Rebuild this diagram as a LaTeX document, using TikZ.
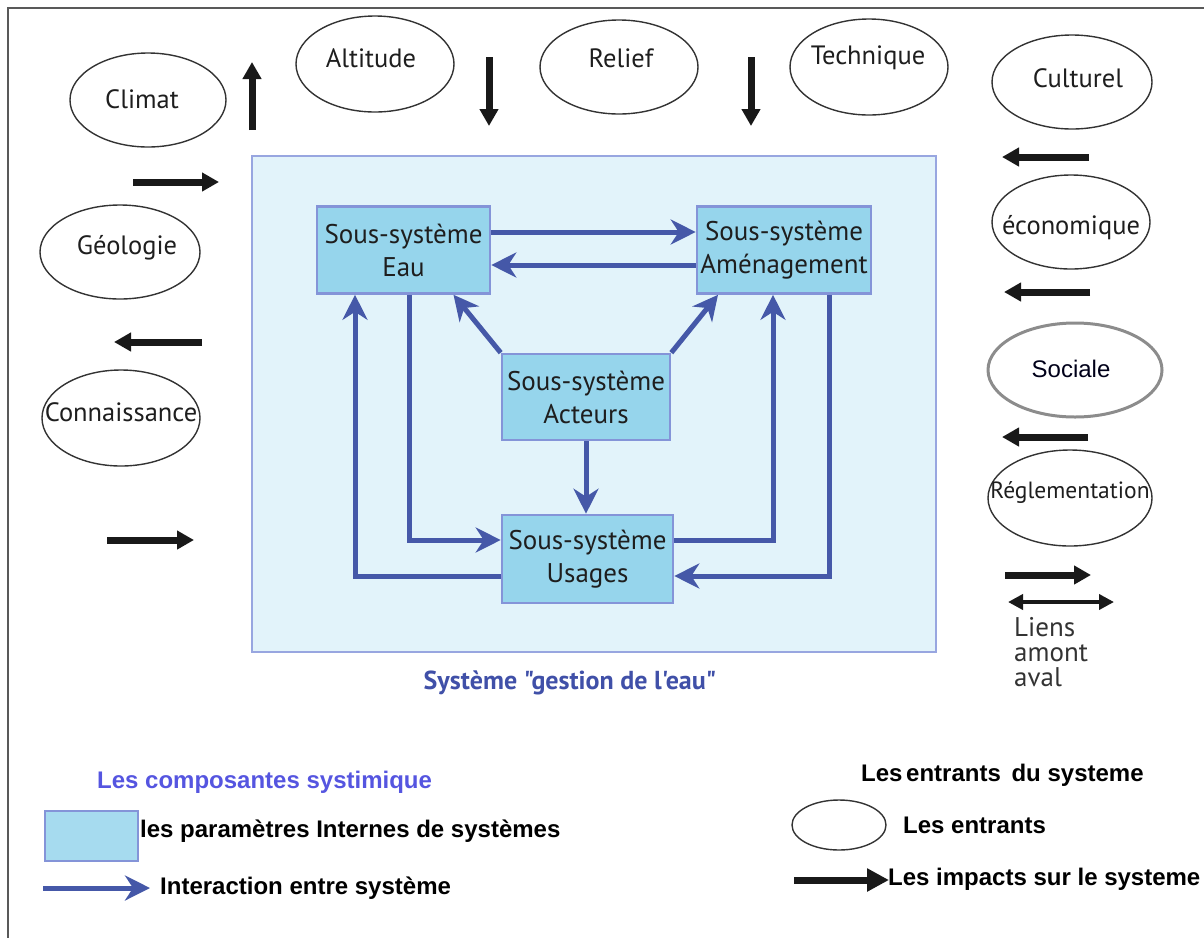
\documentclass[tikz,border=0pt]{standalone}
\usepackage{fontspec}
\setmainfont{PT Sans}
\newfontfamily\capfont{PT Sans}
\newfontfamily\legfont{Liberation Sans}
\usetikzlibrary{arrows.meta,shapes.geometric,calc}
\definecolor{subfill}{HTML}{96D5EC}
\definecolor{subdraw}{HTML}{8494D8}
\definecolor{sysfill}{HTML}{E2F3FA}
\definecolor{sysdraw}{HTML}{98A6E0}
\definecolor{flow}{HTML}{4558A8}
\definecolor{cap}{HTML}{4050A8}
\definecolor{legblue}{HTML}{5555E0}
\definecolor{txt}{HTML}{1E1E1E}
\begin{document}
\begin{tikzpicture}[x=1pt,y=-1pt,
  ent/.style={ellipse,draw=black!80,line width=1.4pt,inner sep=0pt},
  enttxt/.style={font=\fontsize{26.5}{28}\selectfont,text=txt,inner sep=0pt},
  sub/.style={rectangle,draw=subdraw,fill=subfill,line width=2.6pt,inner sep=0pt,align=center,
     font=\fontsize{27}{33}\selectfont,text=txt},
  imp/.style={line width=7pt,-{Triangle[length=17pt,width=18pt]},black!90},
  flowarr/.style={line width=5pt,flow,-{Stealth[length=25pt,width=25pt,inset=8pt]}},
  leg/.style={font=\legfont\bfseries\fontsize{24}{28}\selectfont,inner sep=0pt,anchor=west}]
\useasboundingbox (0,0) rectangle (1204,938);
% frame
\draw[black!65,line width=2pt] (1204,8) -- (8,8) -- (8,938);
% system box
\node[rectangle,draw=sysdraw,fill=sysfill,line width=1.8pt,minimum width=684pt,minimum height=496pt,inner sep=0pt] (sys) at (594,404) {};
\node[font=\capfont\bfseries\fontsize{26}{28}\selectfont,text=cap,inner sep=0pt] (syscap) at (570,683) {Système "gestion de l'eau"};
% subsystems
\node[sub,minimum width=173pt,minimum height=87pt] (eau) at (403.5,250) {Sous-système\\Eau};
\node[sub,minimum width=174pt,minimum height=87pt] (amen) at (784,250) {Sous-système\\Aménagement};
\node[sub,minimum width=168pt,minimum height=86pt] (act) at (586,397) {Sous-système\\Acteurs};
\node[sub,minimum width=171pt,minimum height=88pt] (usa) at (587.5,559) {Sous-système\\Usages};
% flows
\draw[flowarr] ([yshift=18pt]eau.east) -- ([yshift=18pt]amen.west);
\draw[flowarr] ([yshift=-15pt]amen.west) -- ([yshift=-15pt]eau.east);
\draw[flowarr] (act.north west) -- ([xshift=50pt]eau.south);
\draw[flowarr] (act.north east) -- ([xshift=-66pt]amen.south);
\draw[flowarr] (act.south) -- (act.south |- usa.north);
\draw[flowarr] ([xshift=5.5pt]eau.south) |- ([yshift=19pt]usa.west);
\draw[flowarr] ([yshift=-17pt]usa.west) -| ([xshift=-48.5pt]eau.south);
\draw[flowarr] ([yshift=19pt]usa.east) -| ([xshift=-11pt]amen.south);
\draw[flowarr] ([xshift=45pt]amen.south) |- ([yshift=-17pt]usa.east);
% entrants
\node[ent,minimum width=156pt,minimum height=94pt] (climat) at (148,100) {};
\node[enttxt] (tclimat) at (142,99) {Climat};
\node[ent,minimum width=158pt,minimum height=96pt] (alt) at (375,64) {};
\node[enttxt] (talt) at (371,58) {Altitude};
\node[ent,minimum width=158pt,minimum height=94pt] (rel) at (619,67) {};
\node[enttxt] (trel) at (621,58) {Relief};
\node[ent,minimum width=158pt,minimum height=96pt] (tech) at (869,67) {};
\node[enttxt] (ttech) at (868,58) {Technique};
\node[ent,minimum width=160pt,minimum height=94pt] (cult) at (1072,82) {};
\node[enttxt] (tcult) at (1078,78) {Culturel};
\node[ent,minimum width=158pt,minimum height=94pt] (eco) at (1071,222) {};
\node[enttxt] (teco) at (1071,228) {économique};
\node[ellipse,draw=black!45,line width=3pt,inner sep=0pt,minimum width=174pt,minimum height=94pt] (soc) at (1075,370) {};
\node[font=\legfont\fontsize{24}{26}\selectfont,text=black!90!blue,inner sep=0pt] (tsoc) at (1071,369) {Sociale};
\node[ent,minimum width=164pt,minimum height=96pt] (regl) at (1070,498) {};
\node[font=\fontsize{23.5}{26}\selectfont,text=txt,inner sep=0pt] (tregl) at (1070,493) {Réglementation};
\node[ent,minimum width=160pt,minimum height=94pt] (geo) at (120,252) {};
\node[enttxt] (tgeo) at (127,248) {Géologie};
\node[ent,minimum width=158pt,minimum height=96pt] (conn) at (121,418) {};
\node[enttxt] (tconn) at (121,412) {Connaissance};
% impact arrows
\coordinate (i1a) at (252,130); \coordinate (i1b) at (252,62);
\coordinate (i2a) at (489,57);  \coordinate (i2b) at (489,126);
\coordinate (i3a) at (751,57);  \coordinate (i3b) at (751,126);
\coordinate (i4a) at (133,182); \coordinate (i4b) at (219,182);
\coordinate (i5a) at (202,342); \coordinate (i5b) at (114,342);
\coordinate (i6a) at (107,540); \coordinate (i6b) at (194,540);
\coordinate (i7a) at (1089,157); \coordinate (i7b) at (1002,157);
\coordinate (i8a) at (1090,292); \coordinate (i8b) at (1004,292);
\coordinate (i9a) at (1088,437); \coordinate (i9b) at (1002,437);
\coordinate (i10a) at (1005,575); \coordinate (i10b) at (1091,575);
\coordinate (d1a) at (1008,602); \coordinate (d1b) at (1114,602);
\foreach \s in {i1,i2,i3,i4,i5,i6,i7,i8,i9,i10} \draw[imp] (\s a) -- (\s b);
\draw[line width=4pt,black!90,{Triangle[length=15pt,width=15pt]}-{Triangle[length=15pt,width=15pt]}] (d1a) -- (d1b);
\node[font=\fontsize{27}{25}\selectfont,text=black!80,align=left,anchor=north west,inner sep=0pt] (liens) at (1014,617) {Liens\\amont\\aval};
% legend left
\node[font=\legfont\bfseries\fontsize{24}{28}\selectfont,text=legblue,inner sep=0pt,anchor=west] (legtitle) at (97,782) {Les composantes systimique};
\node[rectangle,draw=subdraw,fill=subfill!85!white,line width=2pt,minimum width=93pt,minimum height=50pt,inner sep=0pt] (legbox) at (91.5,836) {};
\node[leg] (legboxt) at (140,831) {les paramètres Internes de systèmes};
\coordinate (lf1) at (43,888); \coordinate (lf2) at (150,888);
\draw[flowarr] (lf1) -- (lf2);
\node[leg] (legflow) at (160,888) {Interaction entre système};
% legend right
\node[leg] (legrtitle) at (861,775) {Les\hspace{-3pt} entrants\hspace{4pt} du systeme};
\node[ent,minimum width=94pt,minimum height=50pt] (legell) at (839,825) {};
\node[leg] (legellt) at (903,825) {Les entrants};
\coordinate (li1) at (794,880); \coordinate (li2) at (889,880);
\draw[line width=7pt,black!90,-{Triangle[length=22pt,width=22pt]}] (li1) -- (li2);
\node[leg] (legimp) at (888,879) {Les impacts sur le systeme};
\end{tikzpicture}
\end{document}
